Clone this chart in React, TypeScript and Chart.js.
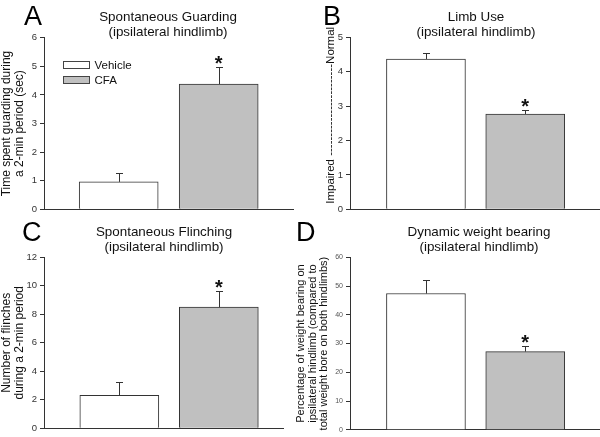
import React, { useEffect, useRef } from "react";
import { Chart, registerables } from "chart.js";

Chart.register(...registerables);

// ---------------- data ----------------
const groups = ["Vehicle", "CFA"];
const significant = [false, true];

const guardingMean = [0.96, 4.38];
const guardingSem = [0.32, 0.59];

const limbUseMean = [4.37, 2.77];
const limbUseSem = [0.17, 0.13];

const flinchMean = [2.32, 8.5];
const flinchSem = [0.9, 1.15];

const weightMean = [47.4, 27.2];
const weightSem = [4.7, 2.1];

const guardingTicks = { max: 6, step: 1 };
const limbUseTicks = { max: 5, step: 1 };
const flinchTicks = { max: 12, step: 2 };
const weightTicks = { max: 60, step: 10 };

// ---------------- styles ----------------
const FONT = "'Liberation Sans', Arial, Helvetica, sans-serif";
const barFill = ["#ffffff", "#c0c0c0"];
const lineColor = "#333333";
const textColor = "#111111";

type PanelCfg = {
  letter: string;
  title: string[];
  yTitle: string | string[];
  mean: number[];
  sem: number[];
  ticks: { max: number; step: number };
  left: number;
  top: number;
  width: number;
  height: number;
  axisWidth: number;
  padTop: number;
  padBottom: number;
  padRight: number;
  xMin: number;
  xMax: number;
  titleX: number;
  titleY: number[];
  letterX: number;
  letterY: number;
  yTitleFont: number;
  yTitleLH: number;
  yTitlePad: number;
  tickFont: number;
  tickColor: string;
  legend: boolean;
};

const panels: PanelCfg[] = [
  {
    letter: "A",
    title: ["Spontaneous Guarding", "(ipsilateral hindlimb)"],
    yTitle: ["Time spent guarding during", "a 2-min period (sec)"],
    mean: guardingMean,
    sem: guardingSem,
    ticks: guardingTicks,
    left: 0, top: 0, width: 300, height: 218,
    axisWidth: 44, padTop: 37.8, padBottom: 8, padRight: 7,
    xMin: 0.253, xMax: 2.743,
    titleX: 168, titleY: [21, 36],
    letterX: 24, letterY: 25,
    yTitleFont: 12, yTitleLH: 1.1, yTitlePad: 0,
    tickFont: 9.5, tickColor: "#333",
    legend: true,
  },
  {
    letter: "B",
    title: ["Limb Use", "(ipsilateral hindlimb)"],
    yTitle: "     Impaired ------------------------Normal",
    mean: limbUseMean,
    sem: limbUseSem,
    ticks: limbUseTicks,
    left: 300, top: 0, width: 300, height: 218,
    axisWidth: 50, padTop: 37.3, padBottom: 8, padRight: 0,
    xMin: 0.235, xMax: 2.753,
    titleX: 176, titleY: [21, 36],
    letterX: 23, letterY: 25,
    yTitleFont: 11.5, yTitleLH: 1.1, yTitlePad: 24.6,
    tickFont: 9.5, tickColor: "#333",
    legend: false,
  },
  {
    letter: "C",
    title: ["Spontaneous Flinching", "(ipsilateral hindlimb)"],
    yTitle: ["Number of flinches", "during a 2-min period"],
    mean: flinchMean,
    sem: flinchSem,
    ticks: flinchTicks,
    left: 0, top: 218, width: 290, height: 219,
    axisWidth: 44, padTop: 39.3, padBottom: 5.7, padRight: 7,
    xMin: 0.243, xMax: 2.645,
    titleX: 164, titleY: [17.5, 33],
    letterX: 22, letterY: 23,
    yTitleFont: 12, yTitleLH: 1.05, yTitlePad: 0.5,
    tickFont: 9.5, tickColor: "#333",
    legend: false,
  },
  {
    letter: "D",
    title: ["Dynamic weight bearing", "(ipsilateral hindlimb)"],
    yTitle: [
      "Percentage of weight bearing on",
      "ipsilateral hindlimb (compared to",
      "total weight bore on both hindlimbs)",
    ],
    mean: weightMean,
    sem: weightSem,
    ticks: weightTicks,
    left: 290, top: 218, width: 310, height: 219,
    axisWidth: 60, padTop: 39.3, padBottom: 5.7, padRight: 0,
    xMin: 0.235, xMax: 2.753,
    titleX: 189, titleY: [17.5, 33],
    letterX: 6, letterY: 23,
    yTitleFont: 11, yTitleLH: 1.05, yTitlePad: 5.2,
    tickFont: 7, tickColor: "#555",
    legend: false,
  },
];

// ---------------- plugin for error bars, stars, titles, legend ----------------
const decorPlugin = {
  id: "decor",
  afterDatasetsDraw(chart: any, _args: any, opts: any) {
    const ctx = chart.ctx as CanvasRenderingContext2D;
    const yScale = chart.scales.y;
    ctx.save();
    chart.data.datasets.forEach((ds: any, i: number) => {
      const meta = chart.getDatasetMeta(i);
      const bar = meta.data[0];
      if (!bar) return;
      const mean = ds.data[0].y;
      const err = opts.sem[i];
      const x = Math.round(bar.x) + 0.5;
      const y0 = yScale.getPixelForValue(mean);
      const y1 = Math.round(yScale.getPixelForValue(mean + err)) + 0.5;
      ctx.strokeStyle = lineColor;
      ctx.lineWidth = 1;
      ctx.beginPath();
      ctx.moveTo(x, y0);
      ctx.lineTo(x, y1);
      ctx.moveTo(x - 3.5, y1);
      ctx.lineTo(x + 3.5, y1);
      ctx.stroke();
      if (opts.sig[i]) {
        ctx.fillStyle = textColor;
        ctx.font = `bold 20px ${FONT}`;
        ctx.textAlign = "center";
        ctx.textBaseline = "alphabetic";
        ctx.fillText("*", bar.x, y1 + 2);
      }
    });
    ctx.restore();
  },
  afterDraw(chart: any, _args: any, opts: any) {
    const ctx = chart.ctx as CanvasRenderingContext2D;
    ctx.save();
    // panel letter
    ctx.fillStyle = "#000";
    ctx.font = `27px ${FONT}`;
    ctx.textAlign = "left";
    ctx.textBaseline = "alphabetic";
    ctx.fillText(opts.letter, opts.letterX, opts.letterY);
    // title
    ctx.fillStyle = textColor;
    ctx.font = `13.4px ${FONT}`;
    ctx.textAlign = "center";
    opts.title.forEach((line: string, i: number) => {
      ctx.fillText(line, opts.titleX, opts.titleY[i]);
    });
    // legend
    if (opts.legend) {
      const area = chart.chartArea;
      const bx = area.left + 19.5;
      let by = 61.5;
      chart.data.datasets.forEach((ds: any) => {
        ctx.fillStyle = ds.backgroundColor;
        ctx.strokeStyle = "#444";
        ctx.lineWidth = 1;
        ctx.fillRect(bx, by, 26, 7);
        ctx.strokeRect(bx, by, 26, 7);
        ctx.fillStyle = textColor;
        ctx.font = `11.5px ${FONT}`;
        ctx.textAlign = "left";
        ctx.textBaseline = "middle";
        ctx.fillText(ds.label, bx + 31, by + 4);
        by += 15;
      });
    }
    ctx.restore();
  },
};

function Panel({ cfg }: { cfg: PanelCfg }) {
  const ref = useRef<HTMLCanvasElement | null>(null);
  useEffect(() => {
    if (!ref.current) return;
    const datasets = groups.map((g, i) => ({
      label: g,
      data: [{ x: i + 1, y: cfg.mean[i] }],
      backgroundColor: barFill[i],
      borderColor: lineColor,
      borderWidth: 1,
      borderSkipped: "start",
      barThickness: 79,
      grouped: false,
    }));
    const chart = new Chart(ref.current, {
      type: "bar",
      data: { datasets } as any,
      plugins: [decorPlugin as any],
      options: {
        responsive: false,
        animation: false,
        devicePixelRatio: 1,
        events: [],
        layout: {
          padding: { top: cfg.padTop, bottom: cfg.padBottom, right: cfg.padRight, left: 0 },
        },
        plugins: {
          legend: { display: false },
          tooltip: { enabled: false },
          title: { display: false },
          decor: {
            sem: cfg.sem,
            sig: significant,
            letter: cfg.letter,
            letterX: cfg.letterX,
            letterY: cfg.letterY,
            title: cfg.title,
            titleX: cfg.titleX,
            titleY: cfg.titleY,
            legend: cfg.legend,
          },
        } as any,
        scales: {
          x: {
            type: "linear",
            min: cfg.xMin,
            max: cfg.xMax,
            offset: false,
            ticks: { display: false },
            grid: { display: false, drawTicks: false },
            border: { display: true, color: lineColor, width: 1 },
          },
          y: {
            type: "linear",
            min: 0,
            max: cfg.ticks.max,
            ticks: {
              stepSize: cfg.ticks.step,
              color: cfg.tickColor,
              padding: 3,
              font: { size: cfg.tickFont, family: FONT },
            },
            grid: {
              display: true,
              drawOnChartArea: false,
              drawTicks: true,
              tickLength: 4,
              color: lineColor,
            },
            border: { display: true, color: lineColor, width: 1 },
            title: {
              display: true,
              text: cfg.yTitle,
              color: textColor,
              font: { size: cfg.yTitleFont, family: FONT, lineHeight: cfg.yTitleLH },
              padding: { top: cfg.yTitlePad, bottom: 0 },
            },
            afterFit: (s: any) => {
              s.width = cfg.axisWidth;
            },
          },
        },
      } as any,
    });
    return () => chart.destroy();
  }, [cfg]);
  return (
    <canvas
      ref={ref}
      width={cfg.width}
      height={cfg.height}
      style={{
        position: "absolute",
        left: cfg.left,
        top: cfg.top,
        width: cfg.width,
        height: cfg.height,
      }}
    />
  );
}

export default function App() {
  return (
    <div
      style={{
        position: "fixed",
        left: 0,
        top: 0,
        width: 600,
        height: 437,
        background: "#ffffff",
        overflow: "hidden",
      }}
    >
      {panels.map((p) => (
        <Panel key={p.letter} cfg={p} />
      ))}
    </div>
  );
}
